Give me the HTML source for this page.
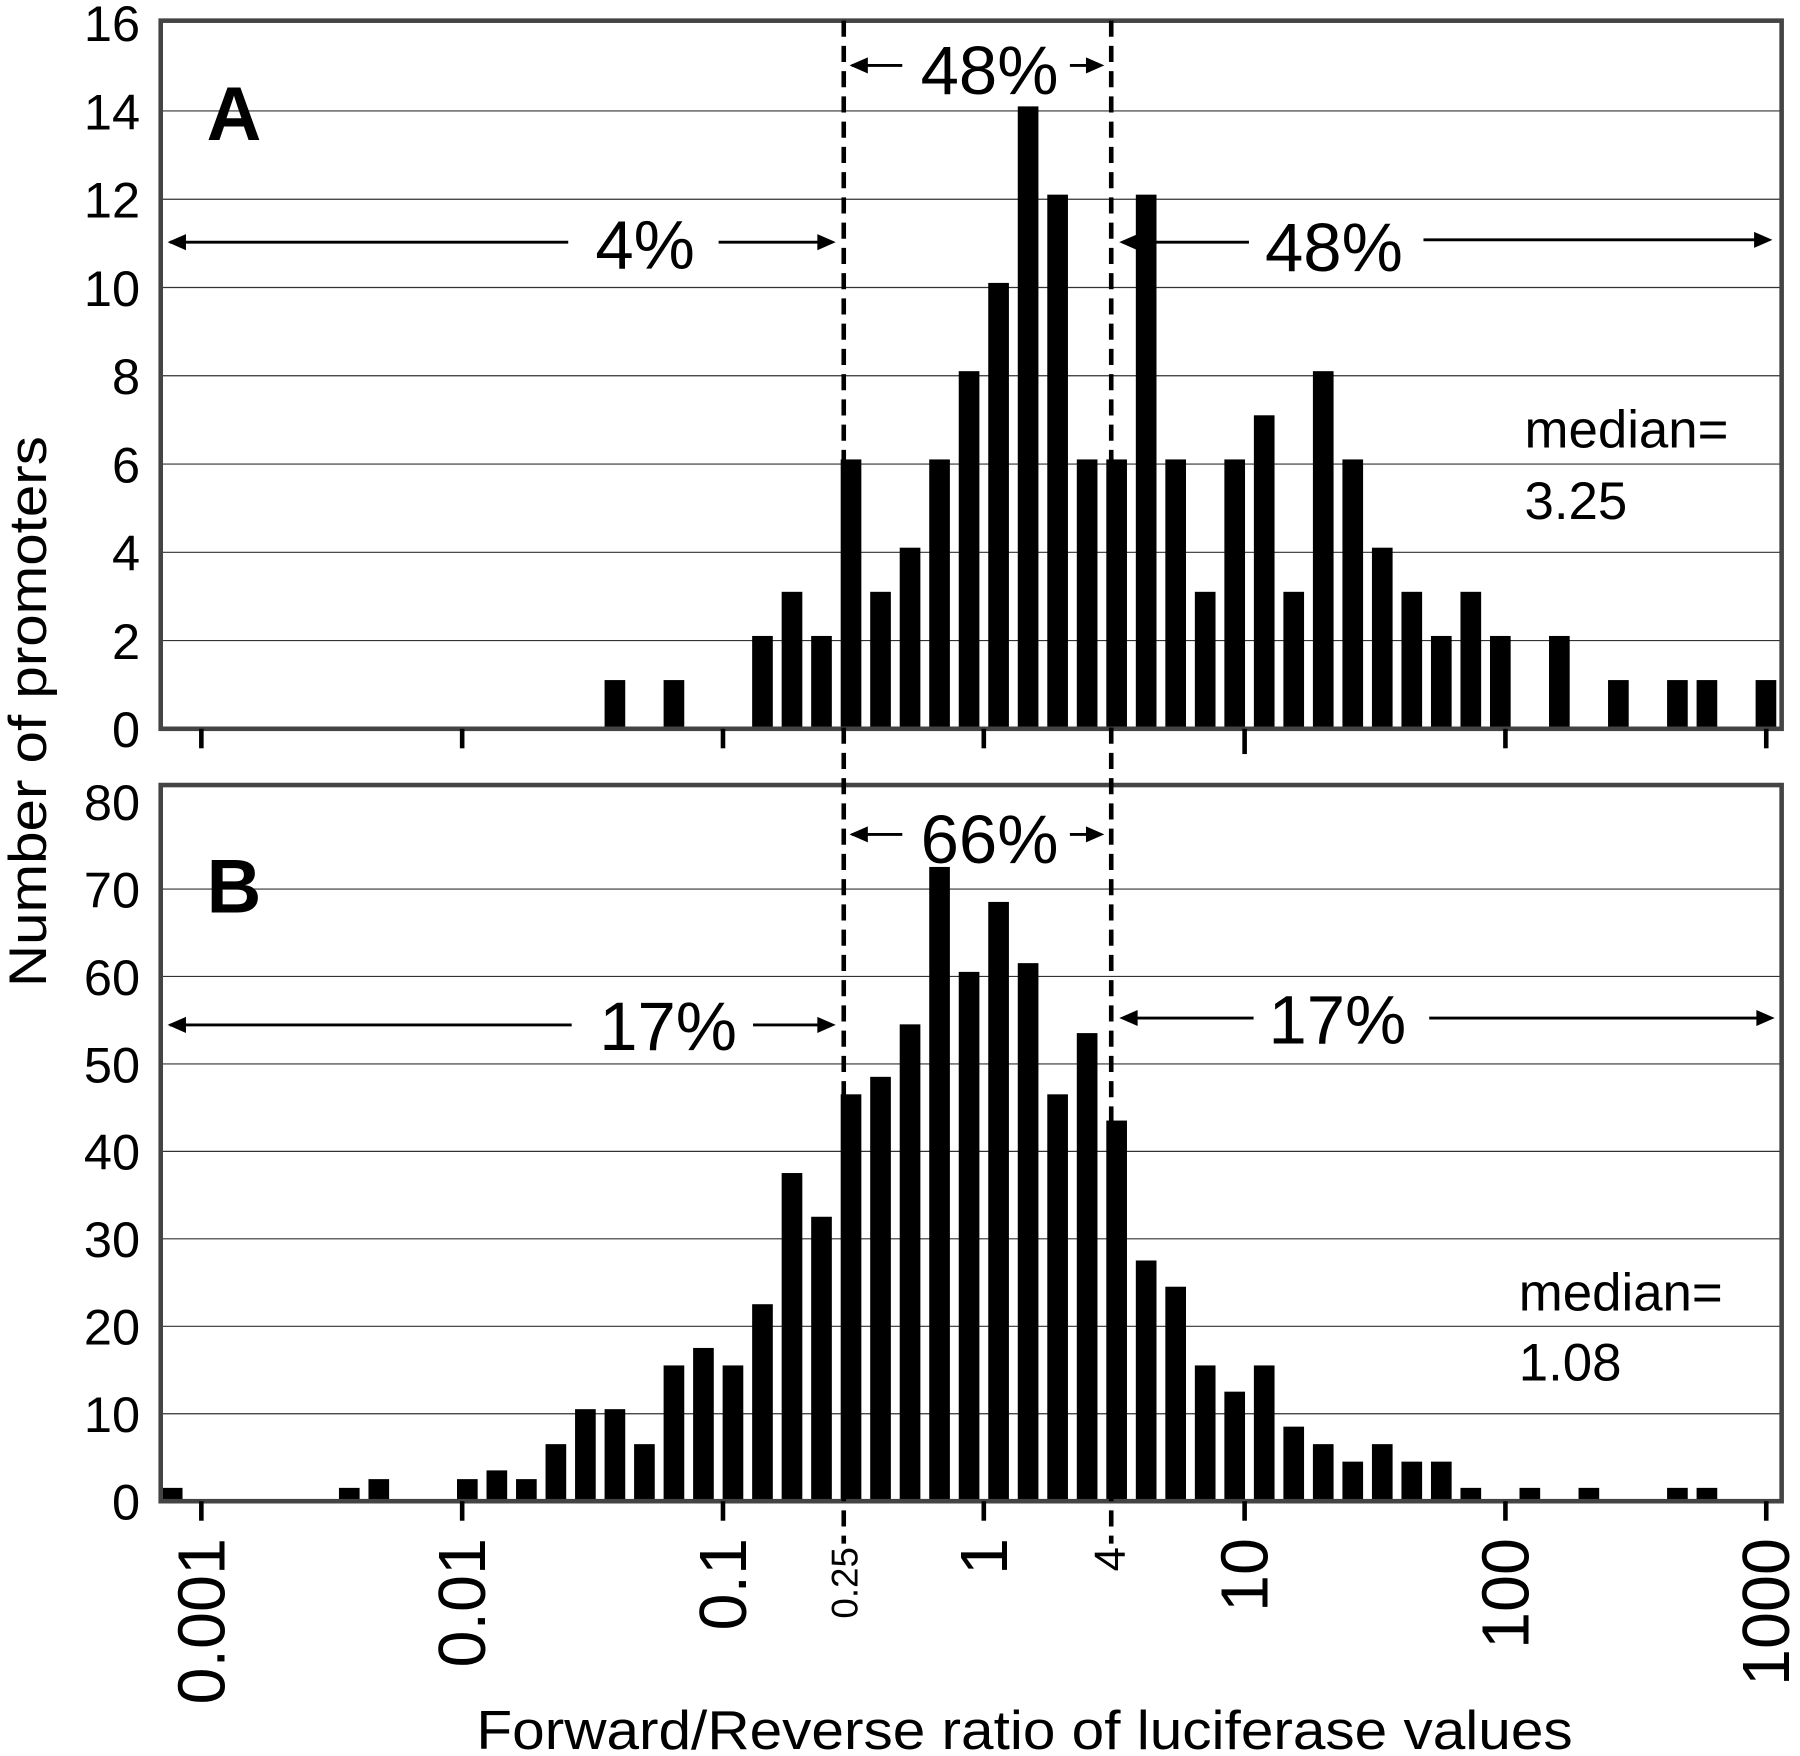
<!DOCTYPE html>
<html><head><meta charset="utf-8"><style>
html,body{margin:0;padding:0;background:#fff;}
svg{display:block;}
text{font-family:"Liberation Sans",sans-serif;fill:#000;}
</style></head><body>
<svg id="chart" width="1800" height="1756" viewBox="0 0 1568 1530" preserveAspectRatio="none" xmlns="http://www.w3.org/2000/svg"></svg>
<script>
// Data: bin indices and counts
const binsA = [15,17,20,21,22,23,24,25,26,27,28,29,30,31,32,33,34,35,36,37,38,39,40,41,42,43,44,45,47,49,51,52,54];
const countsA = [1,1,2,3,2,6,3,4,6,8,10,14,12,6,6,12,6,3,6,7,3,8,6,4,3,2,3,2,2,1,1,1,1];
const binsB = [0,6,7,10,11,12,13,14,15,16,17,18,19,20,21,22,23,24,25,26,27,28,29,30,31,32,33,34,35,36,37,38,39,40,41,42,43,44,46,48,51,52];
const countsB = [1,1,2,2,3,2,6,10,10,6,15,17,15,22,37,32,46,48,54,72,60,68,61,46,53,43,27,24,15,12,15,8,6,4,6,4,4,1,1,1,1,1];
const xTickLabels = ["0.001","0.01","0.1","1","10","100","1000"];
const xTickValues = [0.001,0.01,0.1,1,10,100,1000];
const yTicksA = [0,2,4,6,8,10,12,14,16];
const yTicksB = [0,10,20,30,40,50,60,70,80];

const NS="http://www.w3.org/2000/svg";
const svg=document.getElementById('chart');
function mk(tag,attrs,parent){const e=document.createElementNS(NS,tag);for(const k in attrs)e.setAttribute(k,attrs[k]);(parent||svg).appendChild(e);return e;}
// axis functions
const xLog = v => 857 + Math.log10(v)*227.2;
const binX = i => 150 + i*25.71;
const yA = v => 635 - v*38.45;
const yB = v => 1308 - v*7.62;
const L=140,R=1552;

function panel(name,top,bottom,yFn,ticks,bins,counts,gridMax){
  const g=mk('g',{});
  
  
  ticks.forEach(t=>{
    if(t>0 && t<gridMax){
      const l=mk('line',{x1:L,x2:R,y1:yFn(t),y2:yFn(t),stroke:'#333','stroke-width':1},g);
      
      
    }
    const tx=mk('text',{x:122,y:yFn(t)+16,'text-anchor':'end','font-size':44},g);
    tx.textContent=t;
    
    
  });
  bins.forEach((b,i)=>{
    const top=yFn(counts[i])-4;
    const r=mk('rect',{x:binX(b)-9,y:top,width:18,height:yFn(0)-top,fill:'#000'},g);
    
    
  });
  const f=mk('rect',{x:L,y:top,width:R-L,height:bottom-top,fill:'none',stroke:'#444','stroke-width':4},g);
  
  
  xTickValues.forEach(v=>{
    const t=mk('line',{x1:xLog(v),x2:xLog(v),y1:bottom,y2:bottom+(name==='A'&&v===10?22:17),stroke:'#000','stroke-width':4},g);
    
    
  });
}
panel('A',18,635,yA,yTicksA,binsA,countsA,16);
panel('B',684,1308,yB,yTicksB,binsB,countsB,80);

// dashed lines
[[735,1345],[968,1345]].forEach(d=>{
  const l=mk('line',{x1:d[0],x2:d[0],y1:18,y2:d[1],stroke:'#000','stroke-width':4,'stroke-dasharray':'14,8'});
  
  
});

// x tick labels (rotated)
xTickLabels.forEach((s,i)=>{
  const x=xLog(xTickValues[i]);
  const t=mk('text',{x:0,y:0,'text-anchor':'end','font-size':58,transform:`translate(${x+20},1340) rotate(-90)`});
  t.textContent=s;
  
  
});
[['0.25',735,32],['4',968,38]].forEach(a=>{
  const t=mk('text',{x:0,y:0,'text-anchor':'end','font-size':a[2],transform:`translate(${a[1]+12},1348) rotate(-90)`});
  t.textContent=a[0];
  
  
});

function txt(s,x,y,size,name,anchor,weight){
  const t=mk('text',{x:x,y:y,'font-size':size,'text-anchor':anchor||'start','font-weight':weight||'normal'});
  t.textContent=s;
  
  
  return t;
}
const xt=txt('Forward/Reverse ratio of luciferase values',415,1524,48,'x-axis-title','start');
xt.setAttribute('textLength','955');
xt.setAttribute('lengthAdjust','spacingAndGlyphs');
const yt=mk('text',{x:0,y:0,'font-size':46,'text-anchor':'start',transform:'translate(40,860) rotate(-90)',textLength:480,lengthAdjust:'spacingAndGlyphs'});
yt.textContent='Number of promoters';



txt('A',180,122,66,'panel-label-a','start','bold');
txt('B',180,795,66,'panel-label-b','start','bold');
txt('median=',1328,390,46,'median-label-a');
txt('3.25',1328,452,46,'median-value-a');
txt('median=',1323,1142,46,'median-label-b');
txt('1.08',1323,1203,46,'median-value-b');

// arrows
function arrow(x1,x2,y,name){
  const l=mk('line',{x1:x1,x2:x2,y1:y,y2:y,stroke:'#000','stroke-width':2.5});
  
  
}
function head(x,y,dir){
  const p=mk('polygon',{points:`${x},${y} ${x-dir*16},${y-7} ${x-dir*16},${y+7}`,fill:'#000'});
  
  
}
// A
txt('48%',862,82,60,'pct-middle-a','middle');
arrow(742,786,57,'arrow-middle-a');head(740,57,-1);
arrow(932,958,57,'arrow-middle-a');head(962,57,1);
txt('4%',562,234,60,'pct-left-a','middle');
arrow(148,495,211,'arrow-left-a');head(146,211,-1);
arrow(626,725,211,'arrow-left-a');head(728,211,1);
txt('48%',1162,236,60,'pct-right-a','middle');
arrow(978,1088,211,'arrow-right-a');head(975,211,-1);
arrow(1240,1540,209,'arrow-right-a');head(1544,209,1);
// B
txt('66%',862,752,60,'pct-middle-b','middle');
arrow(742,786,727,'arrow-middle-b');head(740,727,-1);
arrow(932,958,727,'arrow-middle-b');head(962,727,1);
txt('17%',582,915,60,'pct-left-b','middle');
arrow(148,498,893,'arrow-left-b');head(146,893,-1);
arrow(656,725,893,'arrow-left-b');head(728,893,1);
txt('17%',1165,909,60,'pct-right-b','middle');
arrow(978,1092,887,'arrow-right-b');head(975,887,-1);
arrow(1245,1540,887,'arrow-right-b');head(1546,887,1);
</script>
</body></html>
